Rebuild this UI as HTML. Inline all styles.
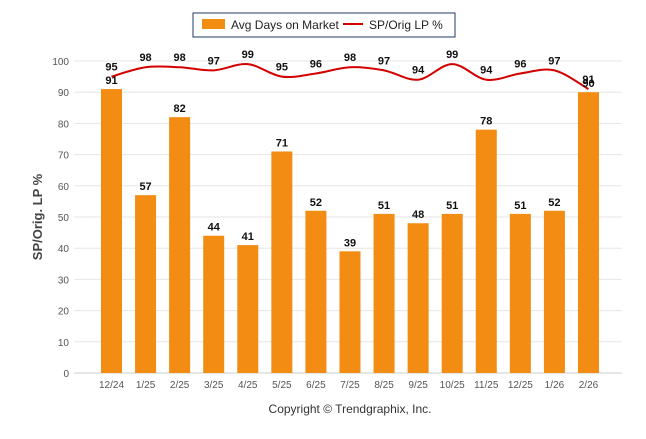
<!DOCTYPE html>
<html><head><meta charset="utf-8"><style>
body{margin:0;background:#fff;font-family:"Liberation Sans",sans-serif}
</style></head><body>
<svg id="c" width="646" height="434" xmlns="http://www.w3.org/2000/svg" font-family="Liberation Sans, sans-serif">
<rect x="193" y="13" width="262" height="24" fill="#fff" stroke="#1f3864" stroke-width="1"/>
<rect x="202" y="19" width="23" height="10" fill="#f28c13"/>
<text x="231" y="29" font-size="12" fill="#222">Avg Days on Market</text>
<line x1="343" y1="24" x2="363" y2="24" stroke="#d40000" stroke-width="2"/>
<text x="369" y="29" font-size="12" fill="#222">SP/Orig LP %</text>
<text transform="translate(42,217) rotate(-90)" text-anchor="middle" font-size="13" font-weight="bold" fill="#444">SP/Orig. LP %</text>
<text x="350" y="413" text-anchor="middle" font-size="12" fill="#333">Copyright © Trendgraphix, Inc.</text>
<g id="grid"></g><g id="bars"></g><g id="line"></g><g id="labels"></g>
</svg>
<script>
const categories=["12/24","1/25","2/25","3/25","4/25","5/25","6/25","7/25","8/25","9/25","10/25","11/25","12/25","1/26","2/26"];
const daysValues=[91,57,82,44,41,71,52,39,51,48,51,78,51,52,90];
const splpValues=[95,98,98,97,99,95,96,98,97,94,99,94,96,97,91];
const yTicks=[0,10,20,30,40,50,60,70,80,90,100];
const NS="http://www.w3.org/2000/svg";
const y=v=>373-v*3.12;
const x=i=>111.5+i*34.07;
function mk(tag,attrs,parent,txt){const e=document.createElementNS(NS,tag);for(const k in attrs)e.setAttribute(k,attrs[k]);if(txt!==undefined)e.textContent=txt;document.getElementById(parent).appendChild(e);return e;}
yTicks.forEach(t=>{
 const g=mk('line',{x1:74,x2:622,y1:y(t),y2:y(t),stroke:t===0?'#ccc':'#e6e6e6','stroke-width':1},'grid');
 
 
 const l=mk('text',{x:69,y:y(t)+4,'text-anchor':'end','font-size':10,fill:'#555'},'grid',t);
 
 
});
categories.forEach((c,i)=>{
 const b=mk('rect',{x:x(i)-10.5,y:y(daysValues[i]),width:21,height:daysValues[i]*3.12,fill:'#f28c13'},'bars');
 
 
 const t=mk('text',{x:x(i),y:388,'text-anchor':'middle','font-size':10,fill:'#555'},'grid',c);
 
 
 const bl=mk('text',{x:x(i),y:y(daysValues[i])-5,'text-anchor':'middle','font-size':11,'font-weight':'bold',fill:'#111'},'labels',daysValues[i]);
 
 
 const ll=mk('text',{x:x(i),y:y(splpValues[i])-6,'text-anchor':'middle','font-size':11,'font-weight':'bold',fill:'#111'},'labels',splpValues[i]);
 
 
});
const pts=splpValues.map((v,i)=>[x(i),y(v)]);
let d='M'+pts[0][0]+','+pts[0][1];
for(let i=0;i<pts.length-1;i++){
 const p0=pts[Math.max(0,i-1)],p1=pts[i],p2=pts[i+1],p3=pts[Math.min(pts.length-1,i+2)];
 const k=1/6;
 d+=' C'+(p1[0]+(p2[0]-p0[0])*k)+','+(p1[1]+(p2[1]-p0[1])*k)+' '+(p2[0]-(p3[0]-p1[0])*k)+','+(p2[1]-(p3[1]-p1[1])*k)+' '+p2[0]+','+p2[1];
}
const ln=mk('path',{d:d,fill:'none',stroke:'#d40000','stroke-width':2},'line');


</script>
</body></html>
